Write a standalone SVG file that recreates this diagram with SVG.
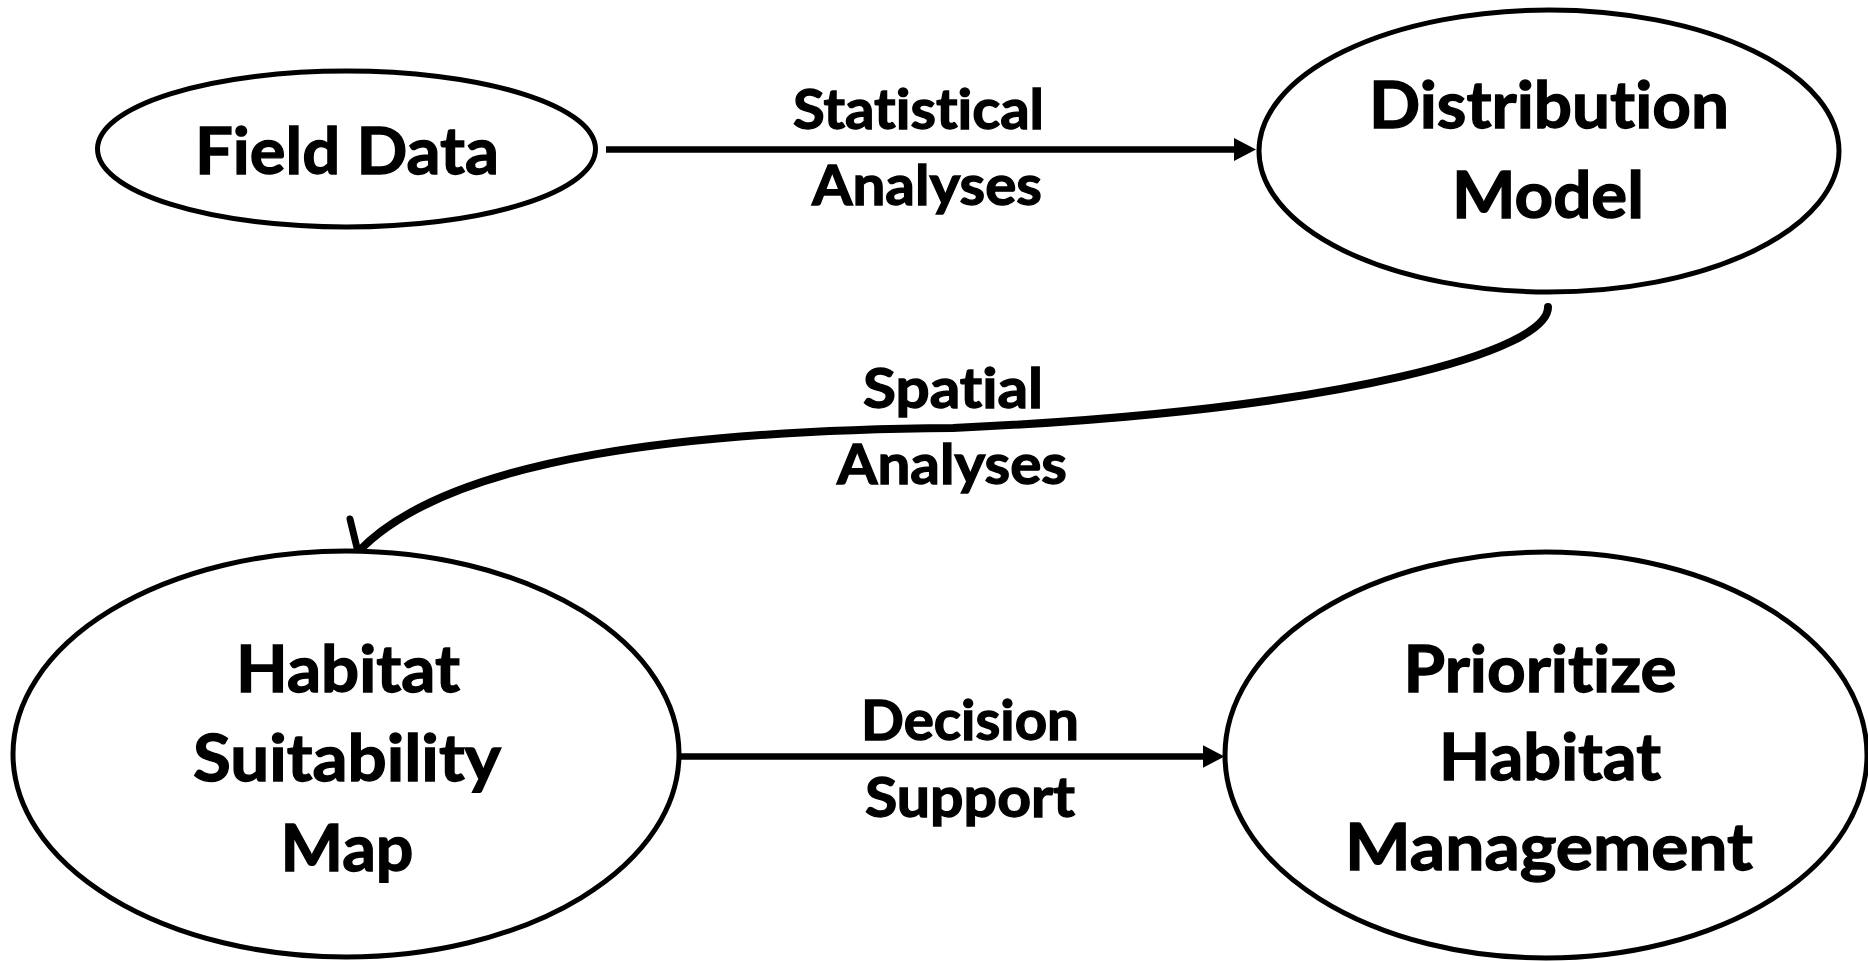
<svg xmlns="http://www.w3.org/2000/svg" width="1868" height="961" viewBox="0 0 1868 961">
<style>
.node ellipse{fill:#fff;stroke:#000;stroke-width:5}
.nt,.lt{font-family:Lato,"Open Sans","Liberation Sans",sans-serif;font-weight:700;fill:#000;stroke:#000;stroke-width:1.3;text-anchor:middle;font-variant-ligatures:none;font-feature-settings:"liga" 0,"clig" 0}
.nt{font-size:65px}
.lt{font-size:56px}
.conn{fill:none;stroke:#000;stroke-width:6.5}
.curve{fill:none;stroke:#000;stroke-width:8;stroke-linecap:round}
</style>
<defs>
<marker id="arrow" markerUnits="userSpaceOnUse" markerWidth="24" markerHeight="24" refX="6" refY="11.5" orient="auto" viewBox="0 0 24 24">
<path d="M0,0 L22,11.5 L0,23 z" fill="#000"/>
</marker>
</defs>
<rect width="1868" height="961" fill="#fff"/>
<g id="connectors">
<line class="conn" x1="606" y1="149.5" x2="1240" y2="149.5" marker-end="url(#arrow)"/>
<line class="conn" x1="681" y1="756.5" x2="1208.5" y2="756.5" marker-end="url(#arrow)"/>
<path class="curve" d="M1548,307 C1549,350 1350,410 953,428 C700,430 450,455 358,552"/>
<path class="curve" style="stroke-width:7" d="M350,519 L358,552"/>
</g>
<g id="labels">
<text class="lt" x="918.5" y="129" textLength="251" lengthAdjust="spacingAndGlyphs">Statistical</text>
<text class="lt" x="927" y="205" textLength="230" lengthAdjust="spacingAndGlyphs">Analyses</text>
<text class="lt" x="953" y="408" textLength="180" lengthAdjust="spacingAndGlyphs">Spatial</text>
<text class="lt" x="952" y="484" textLength="230" lengthAdjust="spacingAndGlyphs">Analyses</text>
<text class="lt" x="970" y="740" textLength="218" lengthAdjust="spacingAndGlyphs">Decision</text>
<text class="lt" x="970" y="817" textLength="210" lengthAdjust="spacingAndGlyphs">Support</text>
</g>
<g id="field-data" class="node">
<ellipse cx="346.5" cy="149" rx="249" ry="78"/>
<text class="nt" x="347" y="174" textLength="304" lengthAdjust="spacingAndGlyphs">Field Data</text>
</g>
<g id="distribution-model" class="node">
<ellipse cx="1549" cy="151" rx="290" ry="141"/>
<text class="nt" x="1549" y="128" textLength="360" lengthAdjust="spacingAndGlyphs">Distribution</text>
<text class="nt" x="1548" y="218" textLength="192" lengthAdjust="spacingAndGlyphs">Model</text>
</g>
<g id="habitat-suitability-map" class="node">
<ellipse cx="346" cy="754" rx="333" ry="203"/>
<text class="nt" x="348" y="692" textLength="224" lengthAdjust="spacingAndGlyphs">Habitat</text>
<text class="nt" x="347" y="781" textLength="308" lengthAdjust="spacingAndGlyphs">Suitability</text>
<text class="nt" x="347" y="871" textLength="133" lengthAdjust="spacingAndGlyphs">Map</text>
</g>
<g id="prioritize-habitat-management" class="node">
<ellipse cx="1546" cy="755" rx="321" ry="203"/>
<text class="nt" x="1540" y="692" textLength="273" lengthAdjust="spacingAndGlyphs">Prioritize</text>
<text class="nt" x="1550" y="780" textLength="222" lengthAdjust="spacingAndGlyphs">Habitat</text>
<text class="nt" x="1549" y="870" textLength="408" lengthAdjust="spacingAndGlyphs">Management</text>
</g>
</svg>
